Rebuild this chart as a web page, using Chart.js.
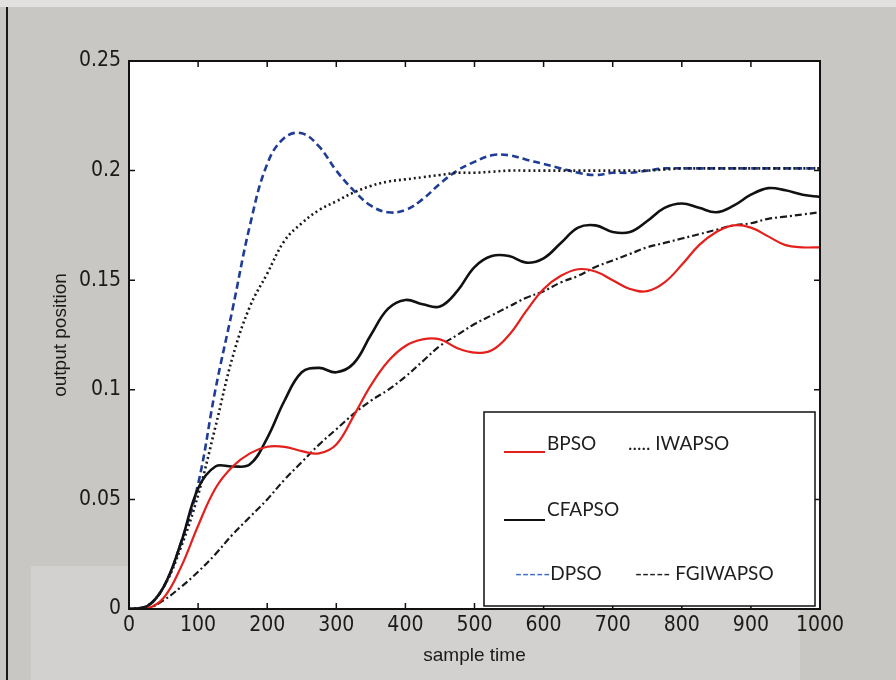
<!DOCTYPE html>
<html>
<head>
<meta charset="utf-8">
<script src="https://cdn.jsdelivr.net/npm/chart.js@4.4.1/dist/chart.umd.min.js"></script>
<style>
  html, body { margin: 0; padding: 0; background: #c9c7c4; }
  canvas { display: block; }
</style>
</head>
<body>
<canvas id="myChart1" width="896" height="680"></canvas>
<script>
const sampleTime = [0, 25, 50, 75, 100, 125, 150, 175, 200, 225, 250, 275, 300, 325, 350, 375, 400, 425, 450, 475, 500,
  525, 550, 575, 600, 625, 650, 675, 700, 725, 750, 775, 800, 825, 850, 875, 900, 925, 950, 975, 1000];

const bpso = [0, 0, 0.005, 0.019, 0.038, 0.055, 0.065, 0.071, 0.074, 0.074, 0.072, 0.071, 0.075, 0.088, 0.102, 0.113, 0.120,
  0.123, 0.123, 0.119, 0.117, 0.118, 0.125, 0.136, 0.146, 0.152, 0.155, 0.154, 0.150, 0.146, 0.145, 0.149, 0.157, 0.166,
  0.172, 0.175, 0.174, 0.170, 0.166, 0.165, 0.165];

const iwapso = [0, 0.001, 0.010, 0.028, 0.052, 0.083, 0.115, 0.138, 0.153, 0.168, 0.176, 0.182, 0.186, 0.190, 0.193, 0.195,
  0.196, 0.197, 0.198, 0.199, 0.199, 0.1995, 0.200, 0.200, 0.200, 0.200, 0.200, 0.200, 0.200, 0.200, 0.200, 0.2005, 0.201,
  0.201, 0.201, 0.201, 0.201, 0.201, 0.201, 0.201, 0.201];

const cfapso = [0, 0.001, 0.010, 0.030, 0.055, 0.065, 0.065, 0.066, 0.078, 0.095, 0.108, 0.110, 0.108, 0.112, 0.125, 0.137,
  0.141, 0.139, 0.138, 0.145, 0.156, 0.161, 0.161, 0.158, 0.160, 0.167, 0.174, 0.175, 0.172, 0.172, 0.177, 0.183, 0.185,
  0.183, 0.181, 0.184, 0.189, 0.192, 0.191, 0.189, 0.188];

const dpso = [0, 0.001, 0.010, 0.030, 0.057, 0.100, 0.137, 0.175, 0.203, 0.215, 0.217, 0.211, 0.200, 0.191, 0.184, 0.181,
  0.182, 0.187, 0.194, 0.200, 0.204, 0.207, 0.207, 0.205, 0.203, 0.201, 0.199, 0.198, 0.199, 0.199, 0.200, 0.201, 0.201,
  0.201, 0.201, 0.201, 0.201, 0.201, 0.201, 0.201, 0.201];

const fgiwapso = [0, 0, 0.004, 0.010, 0.017, 0.025, 0.034, 0.042, 0.050, 0.059, 0.067, 0.075, 0.082, 0.089, 0.095, 0.100,
  0.106, 0.113, 0.120, 0.125, 0.130, 0.134, 0.138, 0.142, 0.145, 0.149, 0.152, 0.156, 0.159, 0.162, 0.165, 0.167, 0.169,
  0.171, 0.173, 0.175, 0.176, 0.178, 0.179, 0.180, 0.181];

const xTicks = [0, 100, 200, 300, 400, 500, 600, 700, 800, 900, 1000];
const yTicks = [0, 0.05, 0.1, 0.15, 0.2, 0.25];

function pts(values) {
  return values.map((v, i) => ({ x: sampleTime[i], y: v }));
}

// page backdrop, plot box, inward ticks and the hand-laid legend
const paperPlugin = {
  id: 'paper',
  beforeDraw(chart) {
    const { ctx, chartArea: a } = chart;
    ctx.save();
    ctx.fillStyle = '#c9c7c4';
    ctx.fillRect(0, 0, chart.width, chart.height);
    ctx.fillStyle = '#e2e1df';
    ctx.fillRect(0, 0, chart.width, 7);
    ctx.fillStyle = '#d2d1cf';
    ctx.fillRect(31, 566, 769, 114);
    ctx.fillStyle = '#1a1a1a';
    ctx.fillRect(6, 7, 2, chart.height - 7);
    ctx.fillStyle = '#ffffff';
    ctx.fillRect(a.left, a.top, a.right - a.left, a.bottom - a.top);
    ctx.restore();
  },
  afterDatasetsDraw(chart) {
    const { ctx, chartArea: a, scales } = chart;
    ctx.save();
    ctx.strokeStyle = '#111';
    ctx.lineWidth = 1.5;
    ctx.beginPath();
    xTicks.forEach(t => {
      const px = scales.x.getPixelForValue(t);
      ctx.moveTo(px, a.bottom); ctx.lineTo(px, a.bottom - 6);
      ctx.moveTo(px, a.top); ctx.lineTo(px, a.top + 6);
    });
    yTicks.forEach(t => {
      const py = scales.y.getPixelForValue(t);
      ctx.moveTo(a.left, py); ctx.lineTo(a.left + 6, py);
      ctx.moveTo(a.right, py); ctx.lineTo(a.right - 6, py);
    });
    ctx.stroke();
    ctx.lineWidth = 2;
    ctx.strokeRect(a.left, a.top, a.right - a.left, a.bottom - a.top);

    // legend box
    const lx = 484, ly = 412, lw = 331, lh = 194;
    ctx.fillStyle = '#ffffff';
    ctx.fillRect(lx, ly, lw, lh);
    ctx.strokeStyle = '#111';
    ctx.lineWidth = 1.5;
    ctx.strokeRect(lx, ly, lw, lh);

    const ds = chart.data.datasets;
    ctx.font = '19px Lato, "Open Sans", sans-serif';
    ctx.textBaseline = 'alphabetic';
    ctx.fillStyle = '#1e1e1e';

    // BPSO
    ctx.strokeStyle = ds[0].borderColor;
    ctx.lineWidth = 2;
    ctx.beginPath(); ctx.moveTo(504, 452); ctx.lineTo(545, 452); ctx.stroke();
    ctx.fillText(ds[0].label, 547, 450);
    // IWAPSO
    ctx.fillText('..... ' + ds[1].label, 628, 450);
    // CFAPSO
    ctx.strokeStyle = '#111';
    ctx.beginPath(); ctx.moveTo(504, 520); ctx.lineTo(545, 520); ctx.stroke();
    ctx.fillText(ds[2].label, 547, 516);
    // DPSO
    ctx.fillStyle = '#3a6fc4';
    ctx.fillText('-----', 515, 580);
    const dw = ctx.measureText('-----').width;
    ctx.fillStyle = '#1e1e1e';
    ctx.fillText(ds[3].label, 515 + dw, 580);
    // FGIWAPSO
    ctx.fillText('----- ' + ds[4].label, 635, 580);
    ctx.restore();
  }
};

const ctx = document.getElementById('myChart1').getContext('2d');

const data = {
  datasets: [
    { label: 'BPSO', data: pts(bpso), borderColor: '#e3201b', borderWidth: 2.2 },
    { label: 'IWAPSO', data: pts(iwapso), borderColor: '#1a1a1a', borderWidth: 2.6, borderDash: [2, 3] },
    { label: 'CFAPSO', data: pts(cfapso), borderColor: '#111111', borderWidth: 2.6 },
    { label: 'DPSO', data: pts(dpso), borderColor: '#1f3c96', borderWidth: 2.6, borderDash: [7, 4] },
    { label: 'FGIWAPSO', data: pts(fgiwapso), borderColor: '#1a1a1a', borderWidth: 2.2, borderDash: [7, 3, 2, 3] },
  ],
};

const tickFont = { family: '"Liberation Sans Narrow", "DejaVu Sans Condensed", Arial, sans-serif', size: 21 };
const titleFont = { family: '"Liberation Sans", Arial, sans-serif', size: 19 };

const config = {
  type: 'line',
  data: data,
  options: {
    responsive: false,
    animation: false,
    layout: { padding: { top: 61, right: 76, left: 0, bottom: 0 } },
    elements: {
      point: { radius: 0 },
      line: { tension: 0.4 },
    },
    plugins: {
      legend: { display: false },
      tooltip: { enabled: false },
    },
    scales: {
      x: {
        type: 'linear',
        min: 0,
        max: 1000,
        afterFit: s => { s.height = 71; },
        afterBuildTicks: s => { s.ticks = xTicks.map(v => ({ value: v })); },
        grid: { display: false, drawTicks: false },
        border: { display: false },
        ticks: {
          color: '#1a1a1a',
          font: tickFont,
          padding: 4,
          maxRotation: 0,
          callback: function (value) {
            return String(value);
          },
        },
        title: {
          display: true,
          text: 'sample time',
          color: '#1a1a1a',
          font: titleFont,
          padding: { top: 0, bottom: 13 },
        },
      },
      y: {
        type: 'linear',
        min: 0,
        max: 0.25,
        afterFit: s => { s.width = 129; },
        afterBuildTicks: s => { s.ticks = yTicks.map(v => ({ value: v })); },
        grid: { display: false, drawTicks: false },
        border: { display: false },
        ticks: {
          color: '#1a1a1a',
          font: tickFont,
          padding: 8,
          callback: function (value) {
            return String(value);
          },
        },
        title: {
          display: true,
          text: 'output position',
          color: '#1a1a1a',
          font: titleFont,
          padding: { top: 49, bottom: 0 },
        },
      },
    },
  },
  plugins: [paperPlugin],
};

const myChart = new Chart(ctx, config);
</script>
</body>
</html>
